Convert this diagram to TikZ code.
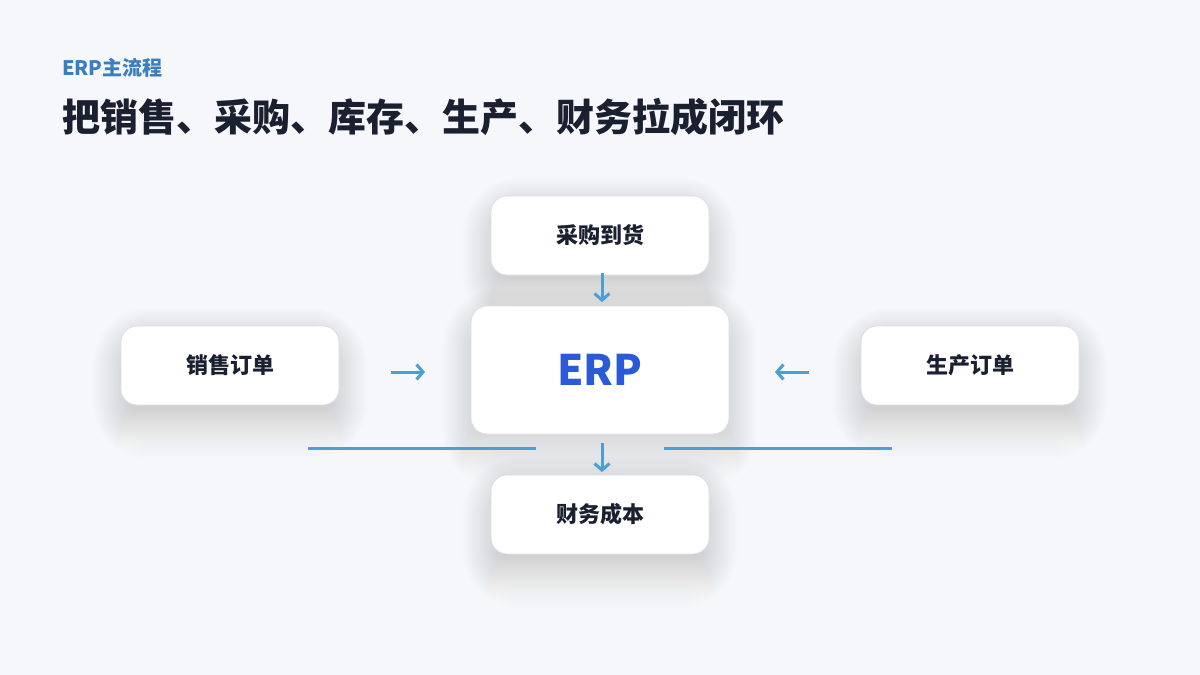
\documentclass[tikz,border=0pt]{standalone}
\usepackage{fontspec}
\setmainfont{Noto Sans CJK SC}
\usetikzlibrary{arrows.meta,backgrounds}
\definecolor{bg}{HTML}{F5F7FB}
\definecolor{ink}{HTML}{1B2030}
\definecolor{tagblue}{HTML}{3A7EBF}
\definecolor{erpblue}{HTML}{2B5AD6}
\definecolor{flow}{HTML}{4B9FD2}
\definecolor{edge}{HTML}{D9DEE7}
\definecolor{shade}{HTML}{2A3866}
\tikzset{
  card/.style={draw=edge, line width=0.8pt, fill=white, rounded corners=16pt,
    minimum width=218pt, minimum height=79pt, inner sep=0pt,
    font=\fontsize{22pt}{26pt}\selectfont\bfseries, text=ink},
  bigcard/.style={card, minimum width=258pt, minimum height=128pt,
    font=\fontsize{42pt}{50pt}\selectfont\bfseries, text=erpblue},
  flowarrow/.style={draw=flow, line width=3pt, -{Straight Barb[length=6.5pt,width=15pt,line width=3pt]}},
  flowline/.style={draw=flow, line width=3pt}
}
\newcommand\softshadow[1]{%
  \foreach \i in {0,...,22}{%
    \pgfmathsetmacro\rr{14+2*\i}%
    \pgfmathsetmacro\ee{2*\i}%
    \fill[shade, opacity=0.003, rounded corners=\rr pt]
      ([xshift=-\ee pt+16pt, yshift=\ee pt-26pt]#1.north west) rectangle
      ([xshift=\ee pt-16pt, yshift=-\ee pt-10pt]#1.south east);
  }}
\begin{document}
\begin{tikzpicture}[x=1pt,y=-1pt]
\useasboundingbox (0,0) rectangle (1200,675);
\node[anchor=west, text=tagblue, font=\fontsize{20pt}{24pt}\selectfont\bfseries, inner sep=0pt] (tag) at (62,68) {ERP主流程};
\node[anchor=west, text=ink, font=\fontsize{38pt}{44pt}\selectfont\bfseries, inner sep=0pt] (title) at (62,117) {把销售、采购、库存、生产、财务拉成闭环};

\node[card] (buy) at (600,235.5) {采购到货};
\node[bigcard] (erp) at (600,370) {ERP};
\node[card] (sale) at (230,365.5) {销售订单};
\node[card] (prod) at (970,365.5) {生产订单};
\node[card] (fin) at (600,514.5) {财务成本};

\begin{pgfonlayer}{background}
\fill[bg] (0,0) rectangle (1200,675);
\softshadow{buy}
\softshadow{erp}
\softshadow{sale}
\softshadow{prod}
\softshadow{fin}
\end{pgfonlayer}

\coordinate (a1s) at (602,273); \coordinate (a1e) at (602,302);
\coordinate (a2s) at (391,372); \coordinate (a2e) at (425,372);
\coordinate (a3s) at (809,372); \coordinate (a3e) at (775,372);
\coordinate (a4s) at (602,443); \coordinate (a4e) at (602,472);
\coordinate (l1s) at (308,448); \coordinate (l1e) at (536,448);
\coordinate (l2s) at (664,448); \coordinate (l2e) at (892,448);

\draw[flowarrow] (a1s) -- (a1e);
\draw[flowarrow] (a2s) -- (a2e);
\draw[flowarrow] (a3s) -- (a3e);
\draw[flowarrow] (a4s) -- (a4e);
\draw[flowline] (l1s) -- (l1e);
\draw[flowline] (l2s) -- (l2e);
\end{tikzpicture}
\end{document}
